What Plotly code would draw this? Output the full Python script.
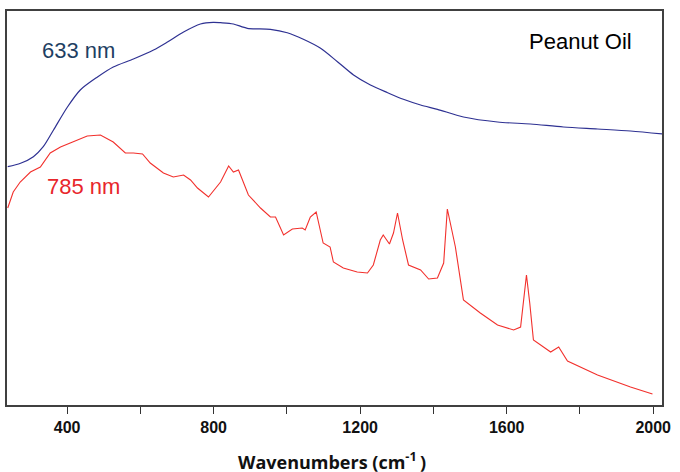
import plotly.graph_objects as go

# 633 nm excitation (blue) - wavenumber (cm-1) and intensity (a.u.)
wn_633 = [238, 273, 308, 335, 363, 401, 436, 483, 526, 581, 636, 674, 718, 764, 799, 819,
          854, 892, 955, 1001, 1045, 1092, 1138, 1182, 1228, 1275, 1318, 1365, 1411,
          1482, 1575, 1665, 1755, 1848, 1938, 2025]
int_633 = [237.8, 241.2, 247.8, 257.8, 274.5, 297.5, 314.5, 327.5, 337.5, 345.5, 354.5, 362.5,
           372.5, 380.5, 382.2, 381.8, 380.5, 376.2, 375.2, 371.8, 365.2, 356.2, 342.8,
           329.5, 319.5, 311.8, 305.2, 299.5, 295.2, 287.5, 282.5, 280.5, 277.5, 275.5,
           273.5, 270.5]

# 785 nm excitation (red)
wn_785 = [238, 253, 272, 300, 327, 354, 382, 417, 455, 491, 526, 559, 581, 606, 627,
          663, 690, 718, 737, 756, 786, 819, 841, 854, 868, 895, 928, 955, 969, 991,
          1015, 1042, 1050, 1064, 1080, 1099, 1118, 1127, 1154, 1192, 1220, 1236, 1255,
          1263, 1280, 1291, 1302, 1316, 1332, 1365, 1387, 1411, 1428, 1438, 1452, 1460,
          1482, 1528, 1575, 1619, 1638, 1646, 1654, 1663, 1673, 1720, 1742, 1766, 1848,
          1938, 1998]
int_785 = [196.5, 212.5, 222.5, 232.5, 237.5, 251.5, 257.5, 262.5, 268.5, 269.5, 262.5,
           251.5, 251.5, 250.5, 241.5, 231.5, 227.5, 229.5, 224.5, 216.5, 207.5, 222.5,
           238.5, 232.5, 234.5, 209.5, 196.5, 187.5, 187.5, 169.5, 175.5, 176.5, 174.5,
           187.5, 192.5, 161.5, 157.5, 142.5, 136.5, 132.5, 131.5, 139.5, 164.5, 169.5,
           160.5, 171.5, 191.5, 164.5, 139.5, 134.5, 125.5, 126.5, 141.5, 195.5, 171.5,
           157.5, 104.5, 91.5, 79.5, 74.5, 77.5, 104.5, 129.5, 101.5, 64.5, 52.5, 57.5,
           43.5, 29.5, 17.5, 10.5]

tick_vals = [400, 600, 800, 1000, 1200, 1400, 1600, 1800, 2000]
tick_text = ["400", "", "800", "", "1200", "", "1600", "", "2000"]

ML, MR, MT, MB = 7, 18, 11, 67
W = 680 - ML - MR
H = 472 - MT - MB


def px(x):
    return (x - ML) / W


def py(y):
    return (472 - MB - y) / H


fig = go.Figure()
fig.add_trace(go.Scatter(x=wn_633, y=int_633, mode="lines",
                         line=dict(color="#2E3192", width=1.2, shape="spline", smoothing=0.8),
                         hoverinfo="skip"))
fig.add_trace(go.Scatter(x=wn_785, y=int_785, mode="lines",
                         line=dict(color="#F2302C", width=1.1),
                         hoverinfo="skip"))

fig.update_layout(
    width=680, height=472,
    margin=dict(l=ML, r=MR, t=MT, b=MB),
    paper_bgcolor="white", plot_bgcolor="white",
    showlegend=False,
    font=dict(family="Liberation Sans, Arial, sans-serif", color="#000"),
    xaxis=dict(range=[236, 2024], tickvals=tick_vals, ticktext=tick_text,
               ticks="outside", ticklen=7, tickwidth=1, tickcolor="#333",
               showline=True, linecolor="#404040", linewidth=1.5, mirror=True,
               showgrid=False, zeroline=False,
               tickfont=dict(family="Liberation Sans, Arial, sans-serif", size=16,
                             color="#111", weight="bold")),
    yaxis=dict(range=[-0.5, 393.5], showticklabels=False, ticks="",
               showline=True, linecolor="#404040", linewidth=1.5, mirror=True,
               showgrid=False, zeroline=False),
    annotations=[
        dict(text="<b>Wavenumbers (cm<sup>-1 </sup>)</b>", x=px(332), y=py(461),
             xref="paper", yref="paper", xanchor="center", yanchor="middle",
             showarrow=False,
             font=dict(family="Open Sans, sans-serif", size=18, color="#111")),
        dict(text="633 nm", x=px(78), y=py(51), xref="paper", yref="paper",
             xanchor="center", yanchor="middle", showarrow=False,
             font=dict(size=22, color="#1F3F63")),
        dict(text="785 nm", x=px(83), y=py(186), xref="paper", yref="paper",
             xanchor="center", yanchor="middle", showarrow=False,
             font=dict(size=22, color="#E8262B")),
        dict(text="Peanut Oil", x=px(580), y=py(41), xref="paper", yref="paper",
             xanchor="center", yanchor="middle", showarrow=False,
             font=dict(size=22, color="#000")),
    ],
)

fig.write_html("out.html", config={"displayModeBar": False},
               post_script="document.body.style.margin='0';document.body.style.padding='0';")
